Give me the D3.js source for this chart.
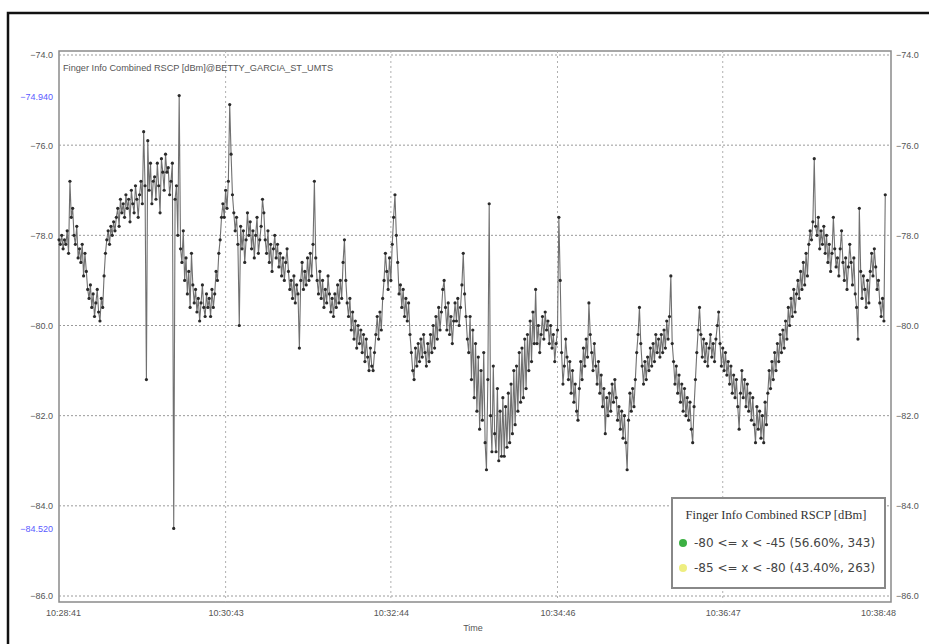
<!DOCTYPE html>
<html>
<head>
<meta charset="utf-8">
<script src="https://cdn.jsdelivr.net/npm/d3@7"></script>
<style>
  html, body { margin: 0; padding: 0; background: #fff; }
  svg { display: block; }
</style>
</head>
<body>
<svg id="chart" width="929" height="644"></svg>
<script>
// ---------- DATA ----------
const startTime = "10:28:41";
const endTime = "10:38:48";
const xTickLabels = ["10:28:41", "10:30:43", "10:32:44", "10:34:46", "10:36:47", "10:38:48"];
const yTickValues = [-74, -76, -78, -80, -82, -84, -86];
const markerValues = [-74.94, -84.52];
const chartTitle = "Finger Info Combined RSCP [dBm]@BETTY_GARCIA_ST_UMTS";
const legendTitle = "Finger Info Combined RSCP [dBm]";
const legendLabels = ["-80 <= x < -45 (56.60%, 343)", "-85 <= x < -80 (43.40%, 263)"];
const legendColors = ["#3cb043", "#eeee80"];
// one sample per second, starting at 10:28:41
const rscp = [
 -78.1,-78.2,-78.0,-78.3,-78.1,-78.2,-77.9,-78.4,-76.8,-77.6,
 -77.4,-78.0,-78.2,-77.8,-78.5,-78.3,-78.6,-78.2,-78.9,-78.4,
 -78.8,-79.2,-79.4,-79.1,-79.6,-79.3,-79.8,-79.5,-79.2,-79.7,
 -79.9,-79.4,-79.6,-78.9,-78.4,-78.1,-77.9,-78.2,-77.8,-78.0,
 -77.7,-77.9,-77.6,-77.4,-77.8,-77.2,-77.5,-77.3,-77.6,-77.1,
 -77.4,-77.2,-77.7,-77.0,-77.3,-77.5,-76.9,-77.2,-77.6,-77.1,
 -76.8,-77.3,-75.7,-76.9,-81.2,-75.9,-77.0,-76.4,-77.3,-76.8,
 -76.7,-77.2,-76.4,-76.9,-77.5,-76.3,-76.6,-77.0,-76.2,-76.6,
 -76.5,-77.1,-76.8,-76.4,-84.5,-77.2,-76.9,-78.0,-74.9,-78.3,
 -78.6,-77.9,-79.0,-78.5,-79.3,-78.8,-79.6,-78.4,-79.1,-79.5,
 -79.2,-79.7,-79.4,-79.9,-79.5,-79.1,-79.6,-79.8,-79.3,-79.6,
 -79.4,-79.8,-79.2,-79.6,-79.3,-78.8,-79.0,-78.4,-78.1,-77.6,
 -77.3,-77.6,-77.0,-77.4,-76.8,-75.1,-76.2,-77.1,-77.5,-77.9,
 -77.6,-78.2,-80.0,-77.8,-78.3,-77.9,-78.6,-78.1,-77.5,-78.0,
 -77.7,-78.3,-77.9,-78.5,-78.0,-77.6,-78.4,-78.1,-77.8,-77.2,
 -77.5,-78.1,-78.4,-77.9,-78.6,-78.2,-78.8,-78.3,-78.0,-78.5,
 -78.2,-78.7,-78.4,-78.9,-78.5,-79.0,-78.6,-78.3,-78.8,-79.2,
 -79.0,-79.4,-78.9,-79.5,-79.1,-79.3,-80.5,-79.0,-78.6,-79.2,
 -78.8,-79.1,-78.5,-79.0,-78.4,-78.9,-78.2,-76.8,-78.5,-79.0,
 -79.3,-78.8,-79.4,-79.0,-79.6,-79.2,-79.5,-78.9,-79.3,-79.7,
 -79.4,-79.8,-79.3,-79.6,-79.1,-79.5,-79.0,-79.4,-78.6,-78.1,
 -79.0,-79.5,-79.8,-79.4,-80.1,-79.7,-80.3,-79.9,-80.5,-80.0,
 -80.4,-80.1,-80.6,-80.2,-80.8,-80.3,-80.7,-81.0,-80.5,-80.9,
 -81.0,-80.6,-80.2,-79.8,-80.3,-79.7,-80.1,-79.4,-79.0,-78.4,
 -78.8,-79.2,-78.5,-79.0,-78.2,-77.6,-77.1,-78.0,-78.6,-79.3,
 -79.1,-79.6,-79.2,-79.8,-79.4,-79.9,-79.5,-80.2,-80.6,-81.0,
 -81.2,-80.5,-80.9,-80.4,-80.8,-80.3,-80.7,-80.2,-80.6,-80.9,
 -80.4,-80.8,-80.2,-80.6,-80.0,-80.5,-79.8,-80.3,-79.6,-80.1,
 -79.7,-79.2,-79.0,-79.6,-80.1,-79.5,-80.2,-79.8,-80.4,-79.9,
 -79.5,-79.9,-79.4,-80.0,-79.6,-79.1,-78.4,-79.3,-79.8,-80.3,
 -80.6,-79.8,-81.2,-80.1,-81.6,-80.4,-81.9,-80.7,-82.3,-81.0,
 -82.1,-80.6,-82.6,-83.2,-81.2,-77.3,-82.0,-82.8,-80.9,-82.4,
 -82.8,-81.4,-83.0,-81.9,-82.9,-81.6,-82.9,-81.8,-82.7,-81.5,
 -82.6,-81.3,-82.4,-81.0,-82.2,-80.9,-81.9,-80.6,-81.7,-80.5,
 -81.6,-80.3,-81.4,-80.2,-81.0,-79.9,-80.8,-79.7,-80.4,-79.2,
 -80.4,-80.0,-80.6,-80.2,-79.8,-80.3,-79.7,-80.1,-79.9,-80.4,
 -80.0,-80.5,-80.2,-80.8,-80.4,-80.1,-77.6,-79.0,-80.6,-81.3,
 -80.9,-80.3,-80.7,-81.2,-80.8,-81.5,-81.0,-81.7,-81.3,-81.9,
 -82.1,-81.4,-80.8,-81.2,-80.5,-80.9,-80.3,-80.7,-79.5,-80.2,
 -80.6,-81.0,-80.4,-80.9,-81.3,-80.8,-81.5,-81.1,-81.8,-81.4,
 -82.4,-81.6,-82.0,-81.5,-81.9,-81.3,-81.7,-81.2,-81.6,-82.1,
 -81.8,-82.3,-81.9,-82.5,-82.0,-82.6,-83.2,-82.1,-81.5,-81.9,
 -81.4,-81.8,-81.2,-80.6,-80.2,-79.6,-80.4,-80.9,-81.3,-80.8,
 -81.2,-80.7,-81.0,-80.5,-80.9,-80.4,-80.8,-80.2,-80.6,-80.3,
 -80.7,-80.2,-80.6,-80.1,-80.5,-79.9,-80.3,-79.8,-78.9,-80.4,
 -80.8,-81.3,-80.9,-81.5,-81.1,-81.7,-81.3,-81.9,-81.4,-82.0,
 -81.6,-82.1,-81.7,-82.3,-82.6,-81.8,-81.2,-80.6,-80.1,-79.6,
 -80.2,-80.7,-80.3,-80.8,-80.4,-80.9,-80.5,-80.2,-80.7,-80.4,
 -80.8,-80.3,-80.0,-79.7,-80.4,-80.9,-80.5,-81.0,-80.6,-81.1,
 -80.8,-81.3,-80.9,-81.5,-81.1,-81.6,-81.2,-81.8,-82.3,-81.5,
 -81.0,-81.6,-81.2,-81.8,-81.3,-81.9,-81.5,-82.1,-81.6,-82.2,
 -82.6,-81.8,-82.3,-81.9,-82.5,-82.0,-82.6,-81.7,-82.2,-81.5,
 -81.0,-81.4,-80.8,-81.2,-80.6,-81.0,-80.4,-80.8,-80.2,-80.6,
 -80.1,-80.5,-79.9,-80.3,-79.6,-80.0,-79.4,-79.8,-79.2,-79.7,
 -79.3,-79.0,-79.4,-78.8,-79.2,-78.6,-79.1,-78.4,-78.9,-78.2,
 -77.9,-78.1,-77.7,-76.3,-77.8,-78.0,-77.6,-78.3,-77.9,-78.2,
 -77.8,-78.4,-78.0,-78.6,-78.2,-78.8,-78.4,-77.6,-78.3,-78.7,
 -78.5,-78.9,-78.3,-77.9,-78.6,-79.0,-78.5,-79.2,-78.7,-78.2,
 -78.6,-79.1,-78.5,-79.3,-79.6,-80.3,-77.4,-78.8,-79.4,-78.9,
 -79.2,-79.6,-79.0,-79.5,-78.8,-78.4,-78.9,-78.3,-78.7,-79.2,
 -79.0,-79.5,-79.8,-79.4,-79.9,-77.1
];

// ---------- CHART ----------
const svg = d3.select("#chart");
const parse = d3.timeParse("%H:%M:%S");
const fmt = d3.timeFormat("%H:%M:%S");
const t0 = parse(startTime), t1 = parse(endTime);
const data = rscp.map((v, i) => ({ t: new Date(t0.getTime() + i * 1000), v }));

const x = d3.scaleTime().domain([t0, t1]).range([59, 888]);
const y = d3.scaleLinear().domain([-86, -74]).range([596, 55]);

const smallFont = "'Liberation Sans', Arial, sans-serif";

// outer black frame
svg.append("rect").attr("x", 8).attr("y", 13).attr("width", 1000).attr("height", 1000)
  .attr("fill", "none").attr("stroke", "#111").attr("stroke-width", 2.5);

// plot frame
svg.append("rect").attr("x", 59).attr("y", 51).attr("width", 832).attr("height", 551)
  .attr("fill", "#fff").attr("stroke", "#8a8a8a").attr("stroke-width", 1.5);

// grid
const grid = svg.append("g");
grid.selectAll("line.h").data(yTickValues).join("line").attr("class", "h")
  .attr("x1", 59).attr("x2", 891).attr("y1", d => y(d)).attr("y2", d => y(d))
  .attr("stroke", "#9a9a9a").attr("stroke-width", 1).attr("stroke-dasharray", "2,2");
const xTicks = xTickLabels.map(parse);
grid.selectAll("line.v").data(xTicks.slice(1, -1)).join("line").attr("class", "v")
  .attr("y1", 51).attr("y2", 602).attr("x1", d => x(d)).attr("x2", d => x(d))
  .attr("stroke", "#b0b0b0").attr("stroke-width", 1).attr("stroke-dasharray", "2,3");

// axes (labels only)
const leftAxis = d3.axisLeft(y).tickValues(yTickValues).tickFormat(d3.format(".1f")).tickSize(0).tickPadding(6);
const gl = svg.append("g").attr("transform", "translate(59,0)").call(leftAxis);
const rightAxis = d3.axisRight(y).tickValues(yTickValues).tickFormat(d3.format(".1f")).tickSize(0).tickPadding(5);
const gr = svg.append("g").attr("transform", "translate(891,0)").call(rightAxis);
const bottomAxis = d3.axisBottom(x).tickValues(xTicks).tickFormat(fmt).tickSize(0).tickPadding(8);
const gb = svg.append("g").attr("transform", "translate(0,602)").call(bottomAxis);
[gl, gr, gb].forEach(g => {
  g.select(".domain").remove();
  g.selectAll("text").attr("fill", "#555").style("font-family", smallFont).style("font-size", "9px");
});
gb.selectAll("text").attr("dx", (d, i) => i === 0 ? 4 : (i === xTicks.length - 1 ? -10 : 0));

// blue marker labels on the left
svg.append("g").selectAll("text").data(markerValues).join("text")
  .attr("x", 53).attr("y", d => y(d)).attr("dy", "0.32em").attr("text-anchor", "end")
  .attr("fill", "#5a5aff").style("font-family", smallFont).style("font-size", "9px")
  .text(d => d3.format(".3f")(d));

// axis title
svg.append("text").attr("x", 473).attr("y", 631).attr("text-anchor", "middle")
  .attr("fill", "#555").style("font-family", smallFont).style("font-size", "9px").text("Time");

// chart title inside plot
svg.append("text").attr("x", 63).attr("y", 71).attr("fill", "#555")
  .style("font-family", smallFont).style("font-size", "9.2px").text(chartTitle);

// series line + points
const line = d3.line().x(d => x(d.t)).y(d => y(d.v));
svg.append("path").datum(data).attr("d", line).attr("fill", "none")
  .attr("stroke", "#707070").attr("stroke-width", 1.1);
svg.append("g").selectAll("circle").data(data).join("circle")
  .attr("cx", d => x(d.t)).attr("cy", d => y(d.v)).attr("r", 1.6).attr("fill", "#2a2a2a");

// legend
const lg = svg.append("g");
lg.append("rect").attr("x", 672).attr("y", 498).attr("width", 213).attr("height", 90)
  .attr("fill", "#fff").attr("stroke", "#888").attr("stroke-width", 2);
lg.append("text").attr("x", 776).attr("y", 519).attr("text-anchor", "middle")
  .attr("fill", "#333").style("font-family", "'Liberation Serif', serif").style("font-size", "12.5px")
  .text(legendTitle);
legendLabels.forEach((lab, i) => {
  lg.append("circle").attr("cx", 683).attr("cy", 543 + i * 25).attr("r", 4).attr("fill", legendColors[i]);
  lg.append("text").attr("x", 694).attr("y", 547 + i * 25).attr("fill", "#444")
    .style("font-family", "'DejaVu Sans', sans-serif").style("font-size", "12px").text(lab);
});
</script>
</body>
</html>
